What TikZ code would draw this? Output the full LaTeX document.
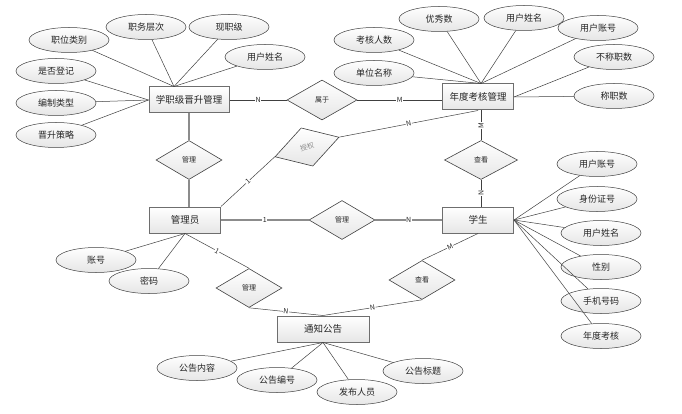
\documentclass[tikz,border=0pt]{standalone}
\usepackage{fontspec}
\setmainfont{Noto Sans CJK SC}
\usepackage{tikz}
\usetikzlibrary{shapes.geometric,calc}
\definecolor{erInk}{HTML}{262626}
\definecolor{erLine}{HTML}{404040}
\definecolor{erGray}{HTML}{8C8C8C}
\definecolor{erBorder}{HTML}{6E6E6E}
\definecolor{erFill}{HTML}{E6E6E6}
\tikzset{
  entity/.style={draw=erBorder,line width=1pt,top color=white,bottom color=erFill,
    minimum height=26pt,inner sep=2pt,text=erInk,font=\fontsize{9.5}{10}\selectfont},
  attr/.style={ellipse,draw=erLine,line width=.5pt,top color=white,bottom color=erFill,
    minimum width=80pt,minimum height=25pt,inner sep=0pt,text=erInk,
    font=\fontsize{9}{10}\selectfont},
  rel/.style={diamond,draw=erLine,line width=.6pt,top color=white,bottom color=erFill,
    minimum width=66pt,minimum height=39pt,inner sep=0pt,text=erInk,
    font=\fontsize{7}{8}\selectfont},
  attrlink/.style={draw=erLine,line width=.5pt},
  heavy/.style={draw=erGray,line width=1.4pt},
  card/.style={fill=white,inner sep=.6pt,text=erInk,font=\fontsize{7}{8}\selectfont}
}

\begin{document}
\begin{tikzpicture}[x=1pt,y=-1pt]
  \useasboundingbox (0,0) rectangle (682,414);
  \node[entity,minimum width=80pt] (xzj) at (189,100) {学职级晋升管理};
  \node[entity,minimum width=71pt] (ndkh) at (478,97) {年度考核管理};
  \node[entity,minimum width=71pt] (gly) at (185,220) {管理员};
  \node[entity,minimum width=71pt] (xs) at (478,220) {学生};
  \node[entity,minimum width=92pt] (tzgg) at (323,329) {通知公告};

  \node[rel,minimum width=70pt,minimum height=40pt] (rSy) at (322,100) {属于};
  \node[rel] (rGl1) at (189,160) {管理};
  \node[rel,minimum width=67pt,minimum height=40pt,rotate=17,text=erGray] (rSq) at (307,147) {授权};
  \node[rel,minimum width=73pt] (rCk1) at (481,160) {查看};
  \node[rel] (rGl2) at (342,220) {管理};
  \node[rel] (rGl3) at (249,288) {管理};
  \node[rel] (rCk2) at (422,280) {查看};

  \foreach \n/\x/\y/\t in {aZwlb/69/40/职位类别,aZwcc/146/27/职务层次,aXzj/229/27/现职级,
      aYhxm1/265/57/用户姓名,aSfdj/56/71/是否登记,aBzlx/56/103/编制类型,aJscl/56/135/晋升策略,
      aKhrs/374/40/考核人数,aYxs/439/19/优秀数,aYhxm2/524/18/用户姓名,aYhzh2/598/28/用户账号,
      aDwmc/374/73/单位名称,aBczs/614/57/不称职数,aCzs/614/96/称职数,
      aYhzh3/597/164/用户账号,aSfzh/597/199/身份证号,aYhxm3/601/233/用户姓名,aXb/601/267/性别,
      aSjhm/601/301/手机号码,aNdkh/601/336/年度考核,aZh/96/260/账号,aMm/149/281/密码,
      aGgnr/197/368/公告内容,aGgbh/277/380/公告编号,aFbry/357/392/发布人员,aGgbt/423/371/公告标题}
    {\node[attr] (\n) at (\x,\y) {\t};}

  \foreach \a in {aZwlb,aZwcc,aXzj,aYhxm1}{\draw[attrlink] (\a) -- ([xshift=-15pt]xzj.north);}
  \foreach \a in {aSfdj,aBzlx,aJscl}{\draw[attrlink] (\a) -- (xzj.west);}
  \foreach \a in {aKhrs,aYxs,aYhxm2,aYhzh2,aDwmc}{\draw[attrlink] (\a) -- ([xshift=3pt]ndkh.north);}
  \foreach \a in {aBczs,aCzs}{\draw[attrlink] (\a) -- (ndkh.east);}
  \foreach \a in {aYhzh3,aSfzh,aYhxm3,aXb,aSjhm,aNdkh}{\draw[attrlink] (\a) -- (xs.east);}
  \foreach \a in {aZh,aMm}{\draw[attrlink] (\a) -- (gly.south);}
  \foreach \a in {aGgnr,aGgbh,aFbry,aGgbt}{\draw[attrlink] (\a) -- (tzgg.south);}

  \draw[attrlink] (xzj.east) -- node[card]{N} (rSy.west);
  \draw[attrlink] (rSy.east) -- node[card]{M} (rSy.east -| ndkh.west);
  \draw[heavy] (xzj.south) -- (rGl1.north);
  \draw[heavy] (rGl1.south) -- (rGl1.south |- gly.north);
  \draw[attrlink] (gly.north east) -- node[card,sloped]{1} (rSq.west);
  \draw[attrlink] (rSq.east) -- node[card,sloped]{N} (ndkh.south);
  \draw[attrlink] (ndkh.south -| rCk1.north) -- node[card,rotate=90]{M} (rCk1.north);
  \draw[attrlink] (rCk1.south) -- node[card,rotate=90]{N} (rCk1.south |- xs.north);
  \draw[heavy] (gly.east) -- node[card]{1} (rGl2.west);
  \draw[heavy] (rGl2.east) -- node[card]{N} (xs.west);
  \draw[attrlink] (gly.south) -- node[card,sloped]{1} (rGl3.north);
  \draw[attrlink] (rGl3.south) -- node[card,sloped]{N} (tzgg.north);
  \draw[attrlink] (xs.south) -- node[card,sloped]{M} (rCk2.north);
  \draw[attrlink] (rCk2.south) -- node[card,sloped]{N} (tzgg.north);
\end{tikzpicture}
\end{document}
